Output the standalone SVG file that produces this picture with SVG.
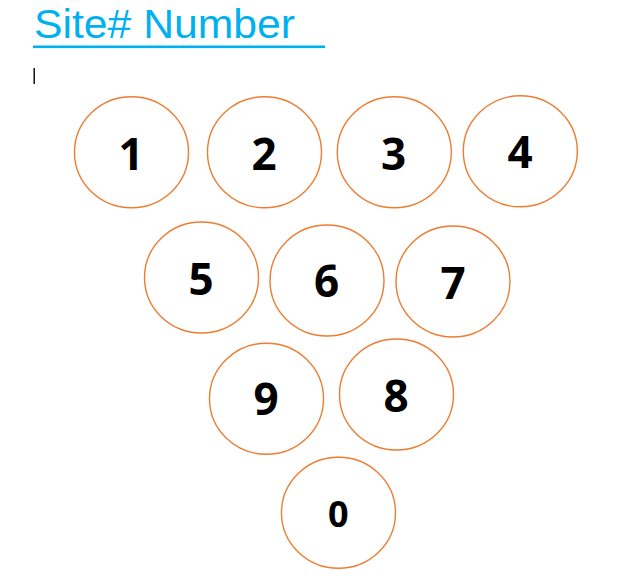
<svg xmlns="http://www.w3.org/2000/svg" width="628" height="578" viewBox="0 0 628 578">
<style>
.c{fill:#fff;stroke:#ED7D31;stroke-width:1.4}
.t{font-family:"Open Sans","Liberation Sans",sans-serif;font-weight:bold;font-size:44px;fill:#000;text-anchor:middle}
.title{font-family:"Liberation Sans",Arial,sans-serif;font-size:40px;fill:#00B0F0}
</style>
<rect width="628" height="578" fill="#fff"/>
<g id="title">
<text class="title" x="34" y="37.5" textLength="261" lengthAdjust="spacingAndGlyphs">Site# Number</text>
<rect x="33" y="45.5" width="292" height="2.6" fill="#00B0F0"/>
</g>
<rect id="cursor" x="33.5" y="68" width="1.4" height="16" fill="#000"/>
<g id="n1"><ellipse class="c" cx="131.5" cy="152.2" rx="57" ry="55.5"/><text class="t" x="131" y="170">1</text></g>
<g id="n2"><ellipse class="c" cx="264.5" cy="152.2" rx="57" ry="55.5"/><text class="t" x="264" y="170">2</text></g>
<g id="n3"><ellipse class="c" cx="394.3" cy="152.3" rx="57" ry="55.5"/><text class="t" x="393.5" y="170">3</text></g>
<g id="n4"><ellipse class="c" cx="520.3" cy="151.3" rx="57" ry="55.5"/><text class="t" x="520" y="168.3">4</text></g>
<g id="n5"><ellipse class="c" cx="201.5" cy="277.5" rx="57" ry="55.5"/><text class="t" x="201" y="295">5</text></g>
<g id="n6"><ellipse class="c" cx="327" cy="280.5" rx="57" ry="55.5"/><text class="t" x="326.7" y="297">6</text></g>
<g id="n7"><ellipse class="c" cx="453" cy="281.5" rx="57" ry="55.5"/><text class="t" x="453" y="299">7</text></g>
<g id="n9"><ellipse class="c" cx="266.5" cy="398.7" rx="57" ry="55.5"/><text class="t" x="266" y="415">9</text></g>
<g id="n8"><ellipse class="c" cx="396.5" cy="394.5" rx="57" ry="55.5"/><text class="t" x="396" y="411.7">8</text></g>
<g id="n0"><ellipse class="c" cx="338.5" cy="512.8" rx="57" ry="55.5"/><text class="t" x="338.3" y="527.3" style="font-size:36px">0</text></g>
<g id="connectors"/>
</svg>
